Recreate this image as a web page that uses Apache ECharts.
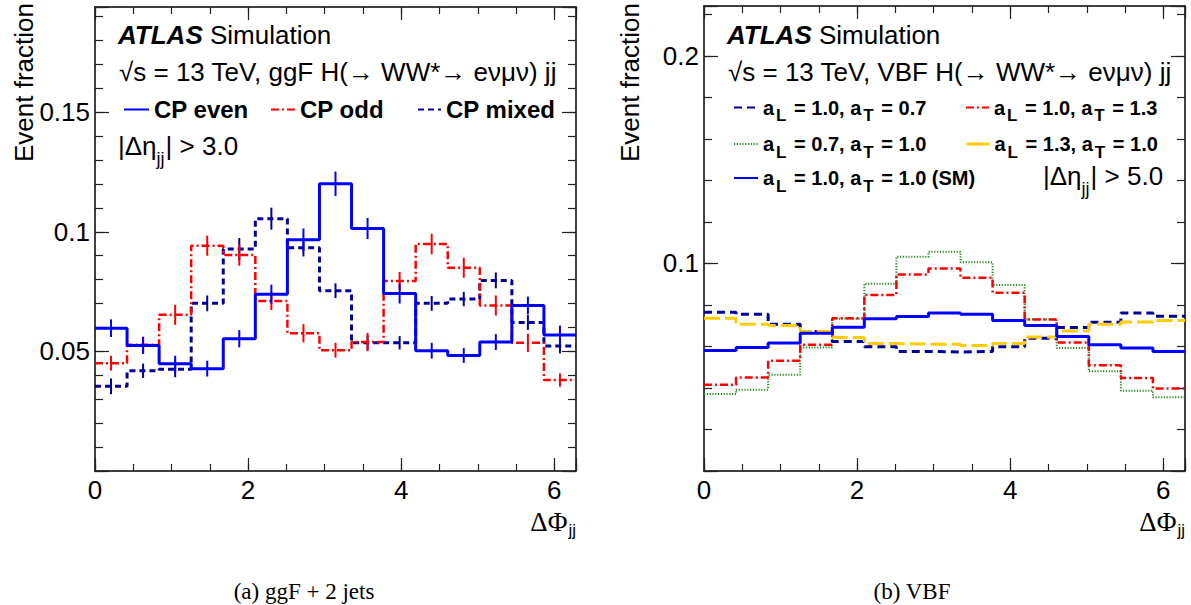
<!DOCTYPE html>
<html><head><meta charset="utf-8">
<script src="https://cdn.jsdelivr.net/npm/echarts@6/dist/echarts.min.js"></script>
<style>html,body{margin:0;padding:0;background:#fff}#c{width:1191px;height:605px}</style>
</head><body><div id="c"></div>
<script>
// ---------- data ----------
const NBINS = 15;
const XMAX = 2 * Math.PI;
const xTickLabels = ['0', '2', '4', '6'];
const leftYTickLabels = ['0.05', '0.1', '0.15'];
const rightYTickLabels = ['0.1', '0.2'];

// (a) ggF + 2 jets, |Δη_jj| > 3.0
const ggfCPeven     = [0.0597,0.0525,0.0448,0.0428,0.0553,0.0739,0.0967,0.1201,0.1014,0.0742,0.0503,0.0483,0.0539,0.0692,0.0569];
const ggfCPevenErr  = [0.0037,0.0036,0.0034,0.0033,0.0036,0.0040,0.0047,0.0051,0.0044,0.0042,0.0033,0.0031,0.0033,0.0037,0.0039];
const ggfCPodd      = [0.0451,0.0528,0.0653,0.0942,0.0903,0.0711,0.0576,0.0505,0.0539,0.0794,0.0949,0.0850,0.0692,0.0536,0.0380];
const ggfCPoddErr   = [0.0031,0.0033,0.0042,0.0042,0.0045,0.0038,0.0038,0.0031,0.0038,0.0038,0.0043,0.0042,0.0042,0.0038,0.0028];
const ggfCPmixed    = [0.0354,0.0419,0.0425,0.0701,0.0928,0.1055,0.0933,0.0754,0.0536,0.0536,0.0701,0.0719,0.0797,0.0621,0.0523];
const ggfCPmixedErr = [0.0033,0.0030,0.0033,0.0033,0.0046,0.0046,0.0036,0.0031,0.0031,0.0028,0.0031,0.0030,0.0033,0.0031,0.0031];

// (b) VBF, |Δη_jj| > 5.0
const vbfL10T07 = [0.0765,0.0755,0.0707,0.0672,0.0624,0.0598,0.0576,0.0573,0.0576,0.0598,0.0640,0.0691,0.0717,0.0761,0.0745];
const vbfL10T13 = [0.0416,0.0451,0.0531,0.0608,0.0736,0.0848,0.0947,0.0976,0.0931,0.0859,0.0730,0.0619,0.0509,0.0448,0.0397];
const vbfL07T10 = [0.0371,0.0392,0.0464,0.0595,0.0733,0.0902,0.1032,0.1056,0.1005,0.0896,0.0731,0.0592,0.0480,0.0387,0.0355];
const vbfL13T10 = [0.0736,0.0707,0.0701,0.0672,0.0643,0.0614,0.0611,0.0611,0.0605,0.0614,0.0645,0.0675,0.0707,0.0718,0.0725];
const vbfSM     = [0.0581,0.0595,0.0617,0.0664,0.0693,0.0734,0.0744,0.0761,0.0755,0.0725,0.0701,0.0648,0.0608,0.0592,0.0576];

const ggfNames = ['CP even', 'CP odd', 'CP mixed'];
const vbfNames = ['a_L = 1.0, a_T = 0.7', 'a_L = 1.0, a_T = 1.3', 'a_L = 0.7, a_T = 1.0', 'a_L = 1.3, a_T = 1.0', 'a_L = 1.0, a_T = 1.0 (SM)'];

// ---------- helpers ----------
const SANS = '"Liberation Sans", Arial, Helvetica, sans-serif';
const SERIF = '"Liberation Serif", "Times New Roman", serif';
const BW = XMAX / NBINS;
function hist(vals) {
  const d = vals.map((v, i) => [i * BW, v]);
  d.push([XMAX, vals[vals.length - 1]]);
  return d;
}
function errData(vals, errs) { return vals.map((v, i) => [(i + 0.5) * BW, v, errs[i]]); }
function fmtLabel(list) {
  return v => { const s = String(+(+v).toFixed(4)); return list.indexOf(s) >= 0 ? s : ''; };
}
function subRich(name) {
  const parts = name.split(/_([A-Z])/);
  return parts.map((p, i) => i % 2 ? '{u|' + p + '}' : (p ? '{m|' + p + '}' : '')).join('');
}

const tickCol = '#222';
function xAxes(g) {
  const base = { type: 'value', gridIndex: g, min: 0, max: XMAX, splitLine: { show: false }, axisPointer: { show: false } };
  return [
    Object.assign({}, base, { position: 'bottom', interval: 2,
      axisLine: { show: true, onZero: false, lineStyle: { color: '#000', width: 1.5 } },
      axisTick: { show: true, inside: true, length: 13, lineStyle: { color: tickCol, width: 1.2 } },
      axisLabel: { show: true, margin: 6, fontSize: 26, fontFamily: SANS, color: '#000', formatter: fmtLabel(xTickLabels) } }),
    Object.assign({}, base, { position: 'bottom', interval: 0.5,
      axisLine: { show: false, onZero: false }, axisLabel: { show: false },
      axisTick: { show: true, inside: true, length: 7, lineStyle: { color: tickCol, width: 1.2 } } }),
    Object.assign({}, base, { position: 'top', interval: 2,
      axisLine: { show: true, onZero: false, lineStyle: { color: '#000', width: 1.5 } }, axisLabel: { show: false },
      axisTick: { show: true, inside: true, length: 13, lineStyle: { color: tickCol, width: 1.2 } } }),
    Object.assign({}, base, { position: 'top', interval: 0.5,
      axisLine: { show: false, onZero: false }, axisLabel: { show: false },
      axisTick: { show: true, inside: true, length: 7, lineStyle: { color: tickCol, width: 1.2 } } })
  ];
}
function yAxes(g, ymax, major, minor, labels) {
  const base = { type: 'value', gridIndex: g, min: 0, max: ymax, splitLine: { show: false }, axisPointer: { show: false } };
  return [
    Object.assign({}, base, { position: 'left', interval: major,
      axisLine: { show: true, onZero: false, lineStyle: { color: '#000', width: 1.5 } },
      axisTick: { show: true, inside: true, length: 14, lineStyle: { color: tickCol, width: 1.2 } },
      axisLabel: { show: true, margin: 5, fontSize: 26, fontFamily: SANS, color: '#000', formatter: fmtLabel(labels) } }),
    Object.assign({}, base, { position: 'left', interval: minor,
      axisLine: { show: false, onZero: false }, axisLabel: { show: false },
      axisTick: { show: true, inside: true, length: 8, lineStyle: { color: tickCol, width: 1.2 } } }),
    Object.assign({}, base, { position: 'right', interval: major,
      axisLine: { show: true, onZero: false, lineStyle: { color: '#000', width: 1.5 } }, axisLabel: { show: false },
      axisTick: { show: true, inside: true, length: 14, lineStyle: { color: tickCol, width: 1.2 } } }),
    Object.assign({}, base, { position: 'right', interval: minor,
      axisLine: { show: false, onZero: false }, axisLabel: { show: false },
      axisTick: { show: true, inside: true, length: 8, lineStyle: { color: tickCol, width: 1.2 } } })
  ];
}

function histSeries(name, g, vals, color, width, type, z) {
  return { name, type: 'line', xAxisIndex: g * 4, yAxisIndex: g * 4, step: 'end', data: hist(vals),
    symbol: 'none', showSymbol: false, silent: true, z: z || 2,
    lineStyle: { color, width, type, cap: 'butt' }, itemStyle: { color } };
}
function errSeries(g, vals, errs, color, width, z) {
  return { type: 'custom', xAxisIndex: g * 4, yAxisIndex: g * 4, data: errData(vals, errs), silent: true, z: z || 2,
    encode: { x: 0, y: 1 },
    renderItem: (params, api) => {
      const x = api.value(0), v = api.value(1), e = api.value(2);
      const p1 = api.coord([x, v - e]), p2 = api.coord([x, v + e]);
      return { type: 'line', shape: { x1: p1[0], y1: p1[1], x2: p2[0], y2: p2[1] }, style: { stroke: color, lineWidth: width } };
    } };
}

const BLUE = '#0000ff', RED = '#ff0000', NAVY = '#000099', GREEN = '#228b22', YELLOW = '#ffcc00';
const DASHDOT = [8, 3, 2, 3], DASH = [6, 4], DOT = [1.2, 1.6], LDASH = [16, 5];

const noSymbol = { color: 'rgba(0,0,0,0)', borderColor: 'rgba(0,0,0,0)', borderWidth: 0 };
const legSans = { fontFamily: SANS, fontSize: 24, fontWeight: 'bold', color: '#000' };
function legL(name, left, w) {
  return { data: [name], left, top: 97.5, itemWidth: w, itemHeight: 14, padding: 0, itemGap: 0, selectedMode: false,
    itemStyle: noSymbol, textStyle: legSans };
}
const richLeg = {
  m: { fontFamily: SANS, fontSize: 20, fontWeight: 'bold', color: '#000', lineHeight: 20 },
  u: { fontFamily: SANS, fontSize: 17, fontWeight: 'bold', color: '#000', lineHeight: 17, padding: [16, 2, 0, 2] }
};
function legR(name, left, top, w, lineStyle) {
  const l = { data: [name], left, top, itemWidth: w, itemHeight: 14, padding: 0, itemGap: 0, selectedMode: false,
    itemStyle: noSymbol,
    formatter: subRich, textStyle: { fontFamily: SANS, fontSize: 20, fontWeight: 'bold', color: '#000', rich: richLeg } };
  if (lineStyle) l.lineStyle = lineStyle;
  return l;
}

function txt(x, y, text, extra) {
  return { type: 'text', x, y, silent: true, style: Object.assign({ text, fill: '#000', fontFamily: SANS, fontSize: 26, align: 'left', verticalAlign: 'middle' }, extra || {}) };
}
// text pieces laid out one after another (measured), each with its own size and vertical offset
const measureCtx = document.createElement('canvas').getContext('2d');
function pieces(x, y, list) {
  const out = [];
  let cx = x;
  list.forEach(p => {
    const fam = p.family || SANS;
    out.push(txt(cx, y + (p.dy || 0), p.t, { fontSize: p.size, fontFamily: fam }));
    measureCtx.font = p.size + 'px ' + fam;
    cx += measureCtx.measureText(p.t).width + (p.gap || 0);
  });
  return out;
}
const atlasRich = { a: { fontFamily: SANS, fontSize: 26, fontWeight: 'bold', fontStyle: 'italic', fill: '#000' }, s: { fontFamily: SANS, fontSize: 26, fill: '#000' } };
const phiRich = { d: { fontFamily: SERIF, fontSize: 27, fill: '#000', lineHeight: 27 }, s: { fontFamily: SANS, fontSize: 17, fill: '#000', lineHeight: 17, padding: [16, 0, 0, 1] } };

const option = {
  animation: false,
  backgroundColor: '#fff',
  grid: [
    { left: 95, top: 7, width: 481, height: 464 },
    { left: 704, top: 6, width: 481, height: 465 }
  ],
  xAxis: xAxes(0).concat(xAxes(1)),
  yAxis: yAxes(0, 0.194, 0.05, 0.01, leftYTickLabels).concat(yAxes(1, 0.224, 0.1, 0.02, rightYTickLabels)),
  legend: [
    legL(ggfNames[0], 123, 25),
    legL(ggfNames[1], 270, 24),
    legL(ggfNames[2], 417, 23),
    legR(vbfNames[0], 733, 91, 24),
    legR(vbfNames[1], 965, 91, 23),
    legR(vbfNames[2], 733, 127.5, 24),
    legR(vbfNames[3], 965, 127.5, 23, { type: 'solid', width: 3, color: YELLOW }),
    legR(vbfNames[4], 733, 161.5, 24)
  ],
  series: [
    histSeries(ggfNames[2], 0, ggfCPmixed, NAVY, 3, DASH, 2),
    errSeries(0, ggfCPmixed, ggfCPmixedErr, NAVY, 2, 2),
    histSeries(ggfNames[1], 0, ggfCPodd, RED, 2.5, DASHDOT, 3),
    errSeries(0, ggfCPodd, ggfCPoddErr, RED, 2, 3),
    histSeries(ggfNames[0], 0, ggfCPeven, BLUE, 3, 'solid', 4),
    errSeries(0, ggfCPeven, ggfCPevenErr, BLUE, 2, 4),

    histSeries(vbfNames[2], 1, vbfL07T10, GREEN, 2, DOT, 2),
    histSeries(vbfNames[1], 1, vbfL10T13, RED, 2.5, DASHDOT, 3),
    histSeries(vbfNames[0], 1, vbfL10T07, NAVY, 3, [8, 5], 3),
    histSeries(vbfNames[3], 1, vbfL13T10, YELLOW, 3, LDASH, 4),
    histSeries(vbfNames[4], 1, vbfSM, BLUE, 3, 'solid', 5)
  ],
  graphic: [
    // left panel texts
    txt(118, 35, '{a|ATLAS} {s|Simulation}', { rich: atlasRich }),
    txt(119, 72, '√s = 13 TeV, ggF H(→ WW*→ eνμν) jj'),
    ...pieces(118, 146, [{ t: '|Δη', size: 26 }, { t: 'jj', size: 18, dy: 13, gap: 1 }, { t: '| > 3.0', size: 26 }]),
    // right panel texts
    txt(727, 35, '{a|ATLAS} {s|Simulation}', { rich: atlasRich }),
    txt(728, 72, '√s = 13 TeV, VBF H(→ WW*→ eνμν) jj'),
    ...pieces(1043, 176, [{ t: '|Δη', size: 26 }, { t: 'jj', size: 18, dy: 13, gap: 1 }, { t: '| > 5.0', size: 26 }]),
    // axis titles
    txt(576, 522, '{d|ΔΦ}{s|jj}', { rich: phiRich, align: 'right' }),
    txt(1185, 522, '{d|ΔΦ}{s|jj}', { rich: phiRich, align: 'right' }),
    Object.assign(txt(24, 3, 'Event fraction', { align: 'right' }), { rotation: Math.PI / 2 }),
    Object.assign(txt(630, 3, 'Event fraction', { align: 'right' }), { rotation: Math.PI / 2 }),
    // captions
    txt(304, 591, '(a) ggF + 2 jets', { fontFamily: SERIF, fontSize: 23, align: 'center' }),
    txt(912, 591, '(b) VBF', { fontFamily: SERIF, fontSize: 23, align: 'center' })
  ]
};

const chart = echarts.init(document.getElementById('c'), null, { renderer: 'svg', width: 1191, height: 605 });
chart.setOption(option);
</script>
</body></html>
